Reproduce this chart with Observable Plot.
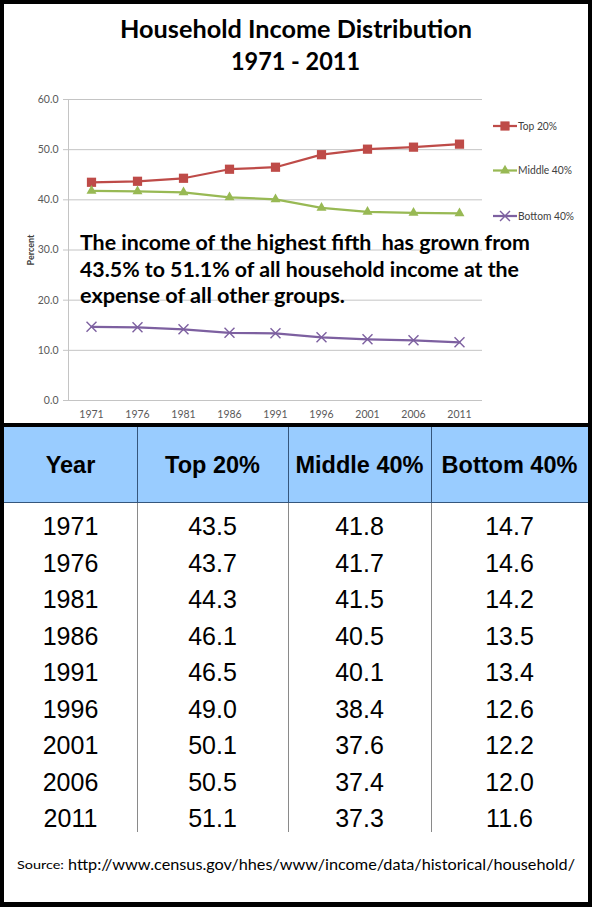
<!DOCTYPE html>
<html>
<head>
<meta charset="utf-8">
<script src="https://cdn.jsdelivr.net/npm/d3@7"></script>
<script src="https://cdn.jsdelivr.net/npm/@observablehq/plot@0.6"></script>
<style>
  body { margin: 0; background: #fff; }
  #page { position: relative; width: 592px; height: 907px; overflow: hidden; background: #fff; }
  #chart { position: absolute; left: 0; top: 85px; }
  #chart svg g[aria-label="y-axis label"] text { font-weight: bold; font-size: 9px; fill: #404040; }
  #overlay { position: absolute; left: 0; top: 0; }
  #divider { position: absolute; left: 0; top: 423px; width: 592px; height: 4px; background: #000; }
  .cell { position: absolute; display: flex; align-items: center; justify-content: center;
          font-family: "Liberation Sans", Arial, sans-serif; color: #000; white-space: nowrap; }
  .head { font-weight: bold; font-size: 23.5px; }
  .body { font-size: 25px; }
  .vline { position: absolute; width: 1px; }
  #frame { position: absolute; left: 0; top: 0; width: 592px; height: 907px; box-sizing: border-box;
           border: 4px solid #000; border-bottom-width: 5px; pointer-events: none; }
</style>
</head>
<body>
<div id="page">
  <div id="chart"></div>
  <div id="divider"></div>
  <div id="table"></div>
  <svg id="overlay" width="592" height="907"></svg>
  <div id="frame"></div>
</div>
<script>
const years = [1971, 1976, 1981, 1986, 1991, 1996, 2001, 2006, 2011];
const top20 = [43.5, 43.7, 44.3, 46.1, 46.5, 49.0, 50.1, 50.5, 51.1];
const middle40 = [41.8, 41.7, 41.5, 40.5, 40.1, 38.4, 37.6, 37.4, 37.3];
const bottom40 = [14.7, 14.6, 14.2, 13.5, 13.4, 12.6, 12.2, 12.0, 11.6];
const groups = ["Top 20%", "Middle 40%", "Bottom 40%"];
const colors = ["#be4b48", "#98b954", "#7d60a0"];
const yTicks = [0, 10, 20, 30, 40, 50, 60];
const headers = ["Year", "Top 20%", "Middle 40%", "Bottom 40%"];

const rows = years.flatMap((year, i) => [
  {year, group: groups[0], value: top20[i]},
  {year, group: groups[1], value: middle40[i]},
  {year, group: groups[2], value: bottom40[i]}
]);
const of = g => rows.filter(d => d.group === g);

const chart = Plot.plot({
  width: 592,
  height: 338,
  marginTop: 14,
  marginRight: 110,
  marginBottom: 23,
  marginLeft: 68,
  style: {fontFamily: "Lato, sans-serif", fontSize: "10.5px", color: "#595959", background: "white"},
  x: {type: "point", domain: years, padding: 0.5, label: null},
  y: {domain: [0, 60], label: "Percent"},
  color: {domain: groups, range: colors},
  marks: [
    Plot.gridY(yTicks, {stroke: "#c4c4c4", strokeOpacity: 1}),
    Plot.frame({anchor: "left", stroke: "#c4c4c4"}),
    Plot.axisY(yTicks, {
      tickSize: 5, tickPadding: 5, stroke: "#c4c4c4",
      tickFormat: d3.format(".1f"),
      label: "Percent", labelAnchor: "center", labelArrow: "none", labelOffset: 41
    }),
    Plot.axisX({tickSize: 0, tickPadding: 10, tickFormat: d => String(d)}),
    Plot.line(rows, {x: "year", y: "value", z: "group", stroke: "group", strokeWidth: 2.25}),
    Plot.dot(of(groups[0]), {x: "year", y: "value", symbol: "square", fill: colors[0], r: 5.2}),
    Plot.dot(of(groups[1]), {x: "year", y: "value", symbol: "triangle", fill: colors[1], r: 3.7}),
    Plot.dot(of(groups[2]), {x: "year", y: "value", symbol: "times", stroke: colors[2], strokeWidth: 1.4, r: 4.6})
  ]
});
document.getElementById("chart").append(chart);

// titles, annotation, legend, source
const svg = d3.select("#overlay");
function label(txt, x, y, size, weight, width, anchor = "start", family = "Lato, sans-serif", fill = "#000") {
  svg.append("text")
    .attr("x", x).attr("y", y)
    .attr("text-anchor", anchor)
    .attr("font-family", family)
    .attr("font-size", size)
    .attr("font-weight", weight)
    .attr("fill", fill)
    .attr("textLength", width)
    .attr("lengthAdjust", "spacingAndGlyphs")
    .style("white-space", "pre")
    .text(txt);
}
label("Household Income Distribution", 296, 37.5, 25, "bold", 352, "middle");
label("1971 - 2011", 295.5, 70, 25, "bold", 129, "middle");

label("The income of the highest fifth  has grown from", 80, 250, 20.5, "bold", 450);
label("43.5% to 51.1% of all household income at the", 80, 276.5, 20.5, "bold", 439);
label("expense of all other groups.", 80, 303, 20.5, "bold", 265);

const legendY = [126, 170.5, 216];
const legendW = [39, 54, 56];
const symbols = [
  {type: d3.symbolSquare, size: Math.PI * 5.2 * 5.2, fill: true},
  {type: d3.symbolTriangle, size: Math.PI * 3.7 * 3.7, fill: true},
  {type: d3.symbolTimes, size: Math.PI * 4.6 * 4.6, fill: false}
];
groups.forEach((g, i) => {
  const y = legendY[i];
  svg.append("line").attr("x1", 493).attr("x2", 517).attr("y1", y).attr("y2", y)
    .attr("stroke", colors[i]).attr("stroke-width", 2.25);
  svg.append("path").attr("transform", `translate(505,${y})`)
    .attr("d", d3.symbol(symbols[i].type, symbols[i].size)())
    .attr("fill", symbols[i].fill ? colors[i] : "none")
    .attr("stroke", symbols[i].fill ? "none" : colors[i])
    .attr("stroke-width", 1.4);
  label(g, 518, y + 3.8, 10.5, "normal", legendW[i], "start", "Lato, sans-serif", "#404040");
});

label("Source:", 17, 869, 12, "normal", 47);
label("http://www.census.gov/hhes/www/income/data/historical/household/", 68, 870, 16, "normal", 507);

// table
const table = document.getElementById("table");
const colEdges = [4, 137, 288, 431, 588];
const headTop = 427, headBottom = 503, rowStart = 508.25, rowH = 36.5, tableBottom = 832;
const columns = [years.map(String), top20.map(v => v.toFixed(1)), middle40.map(v => v.toFixed(1)), bottom40.map(v => v.toFixed(1))];

function box(cls, left, top, width, height, text, bg) {
  const el = document.createElement("div");
  el.className = cls;
  Object.assign(el.style, {left: left + "px", top: top + "px", width: width + "px", height: height + "px"});
  if (bg) el.style.background = bg;
  if (text != null) el.textContent = text;
  table.append(el);
  return el;
}
box("vline", 4, headTop, 584, headBottom - headTop, null, "#99ccff").style.width = "584px";
box("vline", 4, headBottom - 1, 584, 1, null, "#35567c").style.width = "584px";
headers.forEach((h, j) => {
  box("cell head", colEdges[j], headTop, colEdges[j + 1] - colEdges[j], headBottom - headTop, h);
});
columns.forEach((col, j) => {
  col.forEach((v, i) => {
    box("cell body", colEdges[j], rowStart + i * rowH, colEdges[j + 1] - colEdges[j], rowH, v);
  });
});
colEdges.slice(1, -1).forEach(x => {
  box("vline", x, headTop, 1, headBottom - headTop, null, "#35567c");
  box("vline", x, headBottom, 1, tableBottom - headBottom, null, "#8a8a8a");
});
</script>
</body>
</html>
